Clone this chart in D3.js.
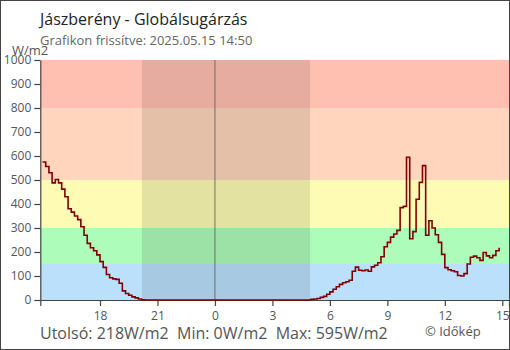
<!DOCTYPE html>
<html>
<head>
<meta charset="utf-8">
<script src="https://cdn.jsdelivr.net/npm/d3@7"></script>
<style>
  html, body { margin: 0; padding: 0; background: #fff; }
  svg { display: block; font-family: "Open Sans", "Noto Sans", sans-serif; }
</style>
</head>
<body>
<svg id="chart" width="510" height="350"></svg>
<script>
// Global radiation readings, every 10 minutes from 15:00 on 14 May
const firstReading = new Date(2025, 4, 14, 15, 0);
const stepMinutes = 10;
const readings = [
  575, 556, 530, 488, 502, 488, 462, 430, 380, 366, 350, 335,
  305, 270, 236, 218, 205, 188, 160, 136, 106, 93, 88, 86,
  70, 38, 27, 20, 13, 9, 4, 1,
  0, 0, 0, 0, 0, 0, 0, 0, 0, 0, 0, 0, 0, 0, 0, 0, 0, 0, 0, 0,
  0, 0, 0, 0, 0, 0, 0, 0, 0, 0, 0, 0, 0, 0, 0, 0, 0, 0, 0, 0,
  0, 0, 0, 0, 0, 0, 0, 0, 0, 0, 0, 0,
  3, 4, 6, 11, 15, 24, 34, 45, 55, 65, 72, 76,
  82, 120, 137, 124, 122, 125, 120, 138, 145, 155, 180, 222,
  240, 262, 275, 290, 385, 390, 595, 255, 285, 420, 490, 560,
  270, 330, 300, 272, 240, 190, 135, 126, 122, 118, 102, 100,
  110, 150, 178, 183, 176, 165, 198, 184, 176, 186, 205, 218
];

// Intensity bands (W/m2) and their fills
const bandEdges = [0, 150, 300, 500, 800, 1000];
const bandColors = ["#bbe0fc", "#aefcba", "#fefcb4", "#ffd6bd", "#ffc0b1"];
const yTicks = [0, 100, 200, 300, 400, 500, 600, 700, 800, 900, 1000];

// Labelled hours on the time axis
const hourTicks = [
  new Date(2025, 4, 14, 18), new Date(2025, 4, 14, 21),
  new Date(2025, 4, 15, 0), new Date(2025, 4, 15, 3),
  new Date(2025, 4, 15, 6), new Date(2025, 4, 15, 9),
  new Date(2025, 4, 15, 12), new Date(2025, 4, 15, 15)
];

// Darkness between sunset and sunrise
const nightStart = new Date(2025, 4, 14, 20, 11);
const nightEnd = new Date(2025, 4, 15, 4, 58);
const midnight = new Date(2025, 4, 15, 0, 0);

const title = "Jászberény - Globálsugárzás";
const subtitle = "Grafikon frissítve: 2025.05.15 14:50";
const unitLabel = "W/m2";
const footer = "Utolsó: 218W/m2  Min: 0W/m2  Max: 595W/m2";
const credit = "© Időkép";

const series = readings.map((v, i) => ({
  t: new Date(firstReading.getTime() + i * stepMinutes * 60000),
  v
}));

const svg = d3.select("#chart");
const plot = { left: 40.3, right: 509, top: 60, bottom: 300 };

const x = d3.scaleTime()
  .domain([new Date(2025, 4, 14, 14, 53), new Date(2025, 4, 15, 15, 21)])
  .range([plot.left, plot.right]);
const y = d3.scaleLinear().domain([0, 1000]).range([plot.bottom, plot.top]);

// background bands
svg.append("g").selectAll("rect")
  .data(bandColors)
  .join("rect")
  .attr("x", plot.left)
  .attr("width", plot.right - plot.left)
  .attr("y", (c, i) => y(bandEdges[i + 1]))
  .attr("height", (c, i) => y(bandEdges[i]) - y(bandEdges[i + 1]))
  .attr("fill", c => c);

// night shading
svg.append("rect")
  .attr("x", x(nightStart))
  .attr("width", x(nightEnd) - x(nightStart))
  .attr("y", plot.top)
  .attr("height", plot.bottom - plot.top)
  .attr("fill", "rgba(0,0,0,0.1)");

// midnight marker
svg.append("line")
  .attr("x1", x(midnight)).attr("x2", x(midnight))
  .attr("y1", plot.top).attr("y2", plot.bottom)
  .attr("stroke", "#555").attr("stroke-width", 0.8);

// axes
const xAxis = d3.axisBottom(x)
  .tickValues(hourTicks)
  .tickFormat(d3.timeFormat("%-H"))
  .tickSize(6)
  .tickPadding(5);
const gx = svg.append("g")
  .attr("transform", `translate(0,${plot.bottom})`)
  .call(xAxis);

const yAxis = d3.axisLeft(y)
  .tickValues(yTicks)
  .tickFormat(d3.format("d"))
  .tickSize(6)
  .tickSizeOuter(0)
  .tickPadding(3);
const gy = svg.append("g")
  .attr("transform", `translate(${plot.left},0)`)
  .call(yAxis);

[gx, gy].forEach(g => {
  g.selectAll("path, line").attr("stroke", "#444").attr("stroke-width", 1.2);
  g.selectAll("text")
    .attr("fill", "#555")
    .style("font-size", "12px")
    .style("font-family", "'Open Sans', sans-serif");
});

// radiation line
const line = d3.line()
  .x(d => x(d.t))
  .y(d => y(d.v))
  .curve(d3.curveStepAfter);
svg.append("path")
  .datum(series)
  .attr("fill", "none")
  .attr("stroke", "#800000")
  .attr("stroke-width", 1.6)
  .attr("d", line);

// texts
svg.append("text").attr("x", 40).attr("y", 25)
  .attr("fill", "#222").style("font-size", "16px").text(title);
svg.append("text").attr("x", 40).attr("y", 45)
  .attr("fill", "#666").style("font-size", "13px").text(subtitle);
svg.append("text").attr("x", 12).attr("y", 55)
  .attr("fill", "#555").style("font-size", "13px").text(unitLabel);
svg.append("text").attr("x", 40).attr("y", 339)
  .attr("fill", "#555").style("font-size", "16px")
  .attr("xml:space", "preserve").style("white-space", "pre").text(footer);
svg.append("text").attr("x", 425).attr("y", 336)
  .attr("fill", "#555").style("font-size", "13px").text(credit);

// outer frame
svg.append("rect")
  .attr("x", 0.5).attr("y", 0.5)
  .attr("width", 509).attr("height", 349)
  .attr("fill", "none").attr("stroke", "#444");
</script>
</body>
</html>
